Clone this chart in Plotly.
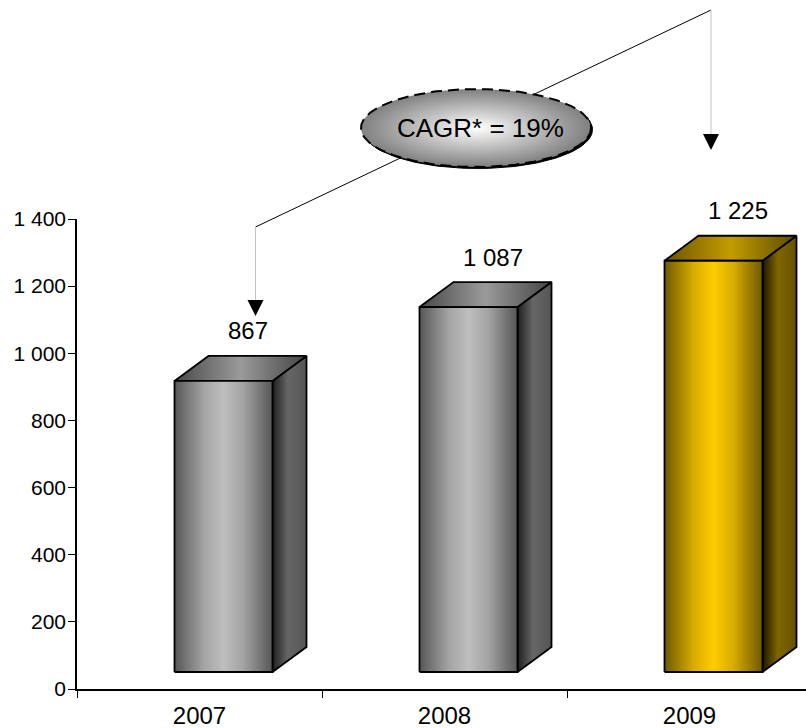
import math
import plotly.graph_objects as go

# Chart data
years = ["2007", "2008", "2009"]
revenue = [867, 1087, 1225]
value_labels = ["867", "1 087", "1 225"]
y_ticks = [0, 200, 400, 600, 800, 1000, 1200, 1400]
y_tick_labels = ["0", "200", "400", "600", "800", "1 000", "1 200", "1 400"]
cagr_label = "CAGR* = 19%"

W, H = 806, 728
PLOT_L, PLOT_T, PLOT_B = 77, 219, 689
PX_PER_CAT = 245.0
PX_PER_UNIT = (PLOT_B - PLOT_T) / 1400.0

FONT = "Liberation Sans, Arial, sans-serif"

# 3D box proportions, converted from pixels into axis units
BAR_W = 98 / PX_PER_CAT
BAR_SHIFT = 24 / PX_PER_CAT
DEPTH_X = 34 / PX_PER_CAT
DEPTH_Y = 25 / PX_PER_UNIT
FLOOR = 17 / PX_PER_UNIT

GREY = dict(
    front=[[0, "#565656"], [0.3, "#a4a4a4"], [0.5, "#bebebe"], [0.7, "#a4a4a4"], [1, "#565656"]],
    side=[[0, "#1e1e1e"], [0.45, "#666666"], [1, "#555555"]],
    top=[[0, "#484848"], [0.5, "#9a9a9a"], [1, "#444444"]],
)
GOLD = dict(
    front=[[0, "#6f5800"], [0.3, "#d9ad00"], [0.5, "#ffcc00"], [0.7, "#d9ad00"], [1, "#6f5800"]],
    side=[[0, "#1c1600"], [0.45, "#7f6600"], [1, "#665200"]],
    top=[[0, "#6a5400"], [0.5, "#c49c00"], [1, "#5c4a00"]],
)
palettes = [GREY, GREY, GOLD]

fig = go.Figure()


def face(xs, ys, scale, width=1.8):
    """One gradient-filled polygon with a black outline."""
    fig.add_trace(go.Scatter(
        x=xs, y=ys, mode="lines", fill="toself",
        fillgradient=dict(type="horizontal", colorscale=scale),
        line=dict(color="#000000", width=width),
        hoverinfo="skip", showlegend=False, cliponaxis=False,
    ))


for i, value in enumerate(revenue):
    pal = palettes[i]
    left = i + BAR_SHIFT - BAR_W / 2
    right = left + BAR_W
    bottom = FLOOR
    top = FLOOR + value
    face([right, right + DEPTH_X, right + DEPTH_X, right, right],
         [bottom, bottom + DEPTH_Y, top + DEPTH_Y, top, bottom], pal["side"])
    face([left, right, right + DEPTH_X, left + DEPTH_X, left],
         [top, top, top + DEPTH_Y, top + DEPTH_Y, top], pal["top"])
    face([left, right, right, left, left],
         [bottom, bottom, top, top, bottom], pal["front"])

# Growth connector on a pixel-scaled full-page subplot
PX = dict(xaxis="x2", yaxis="y2", hoverinfo="skip", showlegend=False, cliponaxis=False)
fig.add_trace(go.Scatter(x=[255.5, 711], y=[227, 10], mode="lines",
                         line=dict(color="#000000", width=1), **PX))
for x0, y0, y1 in [(255.5, 227, 301), (711, 10, 135)]:
    fig.add_trace(go.Scatter(x=[x0, x0], y=[y0, y1], mode="lines",
                             line=dict(color="#c4c4c4", width=1), **PX))
    fig.add_trace(go.Scatter(x=[x0 - 8, x0 + 8, x0, x0 - 8],
                             y=[y1 - 1, y1 - 1, y1 + 15, y1 - 1],
                             mode="lines", fill="toself", fillcolor="#000000",
                             line=dict(color="#000000", width=0), **PX))

# CAGR badge: shadow, radial fill, dashed outline
angles = [2 * math.pi * k / 180 for k in range(181)]
ell_x = [476 + 115 * math.cos(a) for a in angles]
ell_y = [128 + 39 * math.sin(a) for a in angles]
fig.add_trace(go.Scatter(x=[v + 1.5 for v in ell_x], y=[v + 1.5 for v in ell_y],
                         mode="lines", fill="toself", fillcolor="#000000",
                         line=dict(color="#000000", width=1), **PX))
fig.add_trace(go.Scatter(x=ell_x, y=ell_y, mode="lines", fill="toself",
                         fillgradient=dict(type="radial",
                                           colorscale=[[0, "#ffffff"], [1, "#808080"]]),
                         line=dict(color="rgba(0,0,0,0)", width=0), **PX))
fig.add_trace(go.Scatter(x=ell_x, y=ell_y, mode="lines",
                         line=dict(color="#000000", width=2, dash="11px,6px"), **PX))

annotations = [
    dict(x=i, y=v, xref="x", yref="y", text=lab, showarrow=False,
         xshift=48.5, yshift=67,
         font=dict(family=FONT, size=24, color="#000000"))
    for i, (v, lab) in enumerate(zip(revenue, value_labels))
]
annotations.append(dict(x=480, y=128, xref="x2", yref="y2", text=cagr_label,
                        showarrow=False,
                        font=dict(family=FONT, size=26, color="#000000")))

fig.update_layout(
    width=W, height=H, autosize=False,
    margin=dict(l=0, r=0, t=0, b=0, pad=0),
    paper_bgcolor="#ffffff", plot_bgcolor="rgba(0,0,0,0)",
    showlegend=False,
    annotations=annotations,
    xaxis=dict(
        domain=[PLOT_L / W, 1], anchor="y", automargin=False,
        range=[-0.5, (W - PLOT_L) / PX_PER_CAT - 0.5],
        tickvals=[0, 1, 2], ticktext=years, ticks="",
        tickfont=dict(family=FONT, size=24, color="#000000"),
        ticklabelstandoff=4,
        minor=dict(tickvals=[-0.5, 0.5, 1.5], ticks="outside", ticklen=7,
                   tickwidth=1.2, tickcolor="#000000"),
        showgrid=False, zeroline=False, showline=True,
        linecolor="#000000", linewidth=1.5,
    ),
    yaxis=dict(
        domain=[1 - PLOT_B / H, 1 - PLOT_T / H], anchor="x", automargin=False,
        range=[0, 1400], tickvals=y_ticks, ticktext=y_tick_labels,
        ticks="outside", ticklen=7, tickwidth=1.2, tickcolor="#000000",
        tickfont=dict(family=FONT, size=21, color="#000000"),
        ticklabelstandoff=-2,
        showgrid=False, zeroline=False, showline=True,
        linecolor="#000000", linewidth=1.5,
    ),
    xaxis2=dict(anchor="y2", domain=[0, 1], range=[0, W], visible=False),
    yaxis2=dict(anchor="x2", domain=[0, 1], range=[H, 0], visible=False),
)

fig.write_html("out.html")
